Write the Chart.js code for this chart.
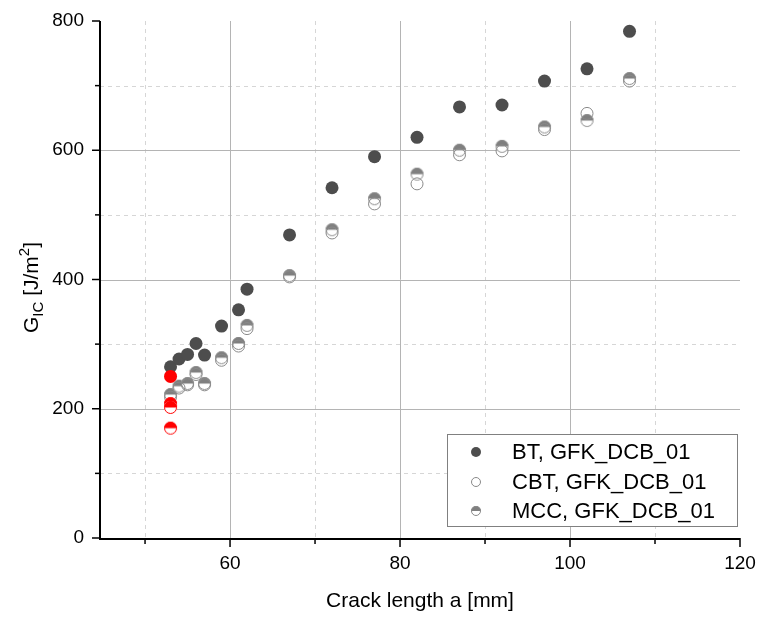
<!DOCTYPE html>
<html>
<head>
<meta charset="utf-8">
<script src="https://cdn.jsdelivr.net/npm/chart.js@4.4.0/dist/chart.umd.min.js"></script>
<style>
  html, body { margin: 0; padding: 0; background: #fff; }
  #wrap { width: 762px; height: 618px; position: relative; }
</style>
</head>
<body>
<div id="wrap"><canvas id="chart"></canvas></div>
<script>
// --- Data ---
const crackLength = [53, 54, 55, 56, 57, 59, 61, 62, 67, 72, 77, 82, 87, 92, 97, 102, 107];
const gBT  = [265, 277, 284, 301, 283, 328, 353, 385, 469, 542, 590, 620, 667, 670, 707, 726, 784];
const gCBT = [218, 232, 237, 253, 237, 275, 297, 324, 404, 472, 517, 548, 593, 599, 632, 657, 707];
const gMCC = [222, 235, 239, 256, 239, 279, 301, 329, 406, 477, 525, 563, 600, 606, 636, 646, 711];
// highlighted (red) first points
const redBT_x = [53];
const redBT_y = [250];
const redMCC_x = [53, 53, 53];
const redMCC_y = [208, 202, 170];

const seriesLabels = ['BT, GFK_DCB_01', 'CBT, GFK_DCB_01', 'MCC, GFK_DCB_01'];
const xMajor = [60, 80, 100, 120];
const xMinor = [50, 70, 90, 110];
const yMajor = [0, 200, 400, 600, 800];
const yMinor = [100, 300, 500, 700];

const FONT = '"Liberation Sans", Arial, sans-serif';

// --- marker images ---
function halfMarker(r, top, edge) {
    const c = document.createElement('canvas');
    const s = Math.ceil(r * 2 + 2);
    c.width = s; c.height = s;
    const g = c.getContext('2d');
    const m = s / 2;
    g.beginPath(); g.arc(m, m, r, 0, Math.PI * 2); g.fillStyle = '#fff'; g.fill();
    g.beginPath(); g.arc(m, m, r, Math.PI, 0); g.closePath(); g.fillStyle = top; g.fill();
    g.beginPath(); g.arc(m, m, r - 0.5, 0, Math.PI * 2); g.lineWidth = 1; g.strokeStyle = edge; g.stroke();
    return c;
}
const mccMarker = halfMarker(6.5, '#7f7f7f', '#8a8a8a');
const redMarker = halfMarker(6.5, '#ff0000', '#ff0000');

function pts(xs, ys) { return xs.map((x, i) => ({ x: x, y: ys[i] })); }

// --- grid, ticks, y title and legend ---
const decor = {
    id: 'decor',
    beforeDatasetsDraw(chart) {
        const { ctx, chartArea: a, scales: { x, y } } = chart;
        ctx.save();
        ctx.lineWidth = 1;
        ctx.strokeStyle = '#d6d6d6';
        ctx.setLineDash([4, 4]);
        xMinor.forEach(v => { const p = Math.round(x.getPixelForValue(v)) + 0.5; ctx.beginPath(); ctx.moveTo(p, a.top); ctx.lineTo(p, a.bottom); ctx.stroke(); });
        yMinor.forEach(v => { const p = Math.round(y.getPixelForValue(v)) + 0.5; ctx.beginPath(); ctx.moveTo(a.left, p); ctx.lineTo(a.right, p); ctx.stroke(); });
        ctx.setLineDash([]);
        ctx.strokeStyle = '#b4b4b4';
        xMajor.forEach(v => { if (v >= 120) return; const p = Math.round(x.getPixelForValue(v)) + 0.5; ctx.beginPath(); ctx.moveTo(p, a.top); ctx.lineTo(p, a.bottom); ctx.stroke(); });
        yMajor.forEach(v => { if (v <= 0 || v >= 800) return; const p = Math.round(y.getPixelForValue(v)) + 0.5; ctx.beginPath(); ctx.moveTo(a.left, p); ctx.lineTo(a.right, p); ctx.stroke(); });
        ctx.restore();
    },
    afterDraw(chart) {
        const { ctx, chartArea: a, scales: { x, y } } = chart;
        ctx.save();
        // axis lines and tick marks
        ctx.strokeStyle = '#000';
        ctx.lineWidth = 2;
        ctx.beginPath();
        ctx.moveTo(a.left, a.top); ctx.lineTo(a.left, a.bottom + 1); ctx.lineTo(a.right, a.bottom + 1);
        ctx.stroke();
        ctx.lineWidth = 1.5;
        yMajor.forEach(v => { const p = y.getPixelForValue(v); ctx.beginPath(); ctx.moveTo(a.left - 8, p); ctx.lineTo(a.left, p); ctx.stroke(); });
        yMinor.forEach(v => { const p = y.getPixelForValue(v); ctx.beginPath(); ctx.moveTo(a.left - 5, p); ctx.lineTo(a.left, p); ctx.stroke(); });
        xMajor.forEach(v => { const p = x.getPixelForValue(v); ctx.beginPath(); ctx.moveTo(p, a.bottom); ctx.lineTo(p, a.bottom + 9); ctx.stroke(); });
        xMinor.forEach(v => { const p = x.getPixelForValue(v); ctx.beginPath(); ctx.moveTo(p, a.bottom); ctx.lineTo(p, a.bottom + 6); ctx.stroke(); });

        // y title: G_IC [J/m^2]
        ctx.translate(30, (a.top + a.bottom) / 2 + 8);
        ctx.rotate(-Math.PI / 2);
        ctx.fillStyle = '#000';
        ctx.textBaseline = 'alphabetic';
        ctx.textAlign = 'left';
        const big = '21px ' + FONT, small = '15px ' + FONT;
        const parts = [['G', big, 0], ['IC', small, 5], [' [J/m', big, 0], ['2', small, -9], [']', big, 0]];
        let w = 0;
        parts.forEach(p => { ctx.font = p[1]; w += ctx.measureText(p[0]).width; });
        let cx = -w / 2;
        parts.forEach(p => { ctx.font = p[1]; ctx.fillText(p[0], cx, 8 + p[2]); cx += ctx.measureText(p[0]).width; });
        ctx.restore();

        // legend box
        ctx.save();
        ctx.fillStyle = '#fff';
        ctx.fillRect(447, 434, 291, 93);
        ctx.strokeStyle = '#808080';
        ctx.lineWidth = 1;
        ctx.strokeRect(447.5, 434.5, 290, 92);
        const rows = [452, 482, 511];
        ctx.font = '22px ' + FONT;
        ctx.textBaseline = 'middle';
        ctx.fillStyle = '#000';
        seriesLabels.forEach((t, i) => {
            const yy = rows[i];
            if (i === 0) {
                ctx.beginPath(); ctx.arc(476, yy, 5, 0, Math.PI * 2); ctx.fillStyle = '#4d4d4d'; ctx.fill();
            } else if (i === 1) {
                ctx.beginPath(); ctx.arc(476, yy, 4.5, 0, Math.PI * 2); ctx.strokeStyle = '#8a8a8a'; ctx.stroke();
            } else {
                ctx.drawImage(halfMarker(5, '#7f7f7f', '#8a8a8a'), 476 - 6, yy - 6);
            }
            ctx.fillStyle = '#000';
            ctx.fillText(t, 512, yy + 1);
        });
        ctx.restore();
    }
};

new Chart(document.getElementById('chart'), {
    type: 'scatter',
    data: {
        datasets: [
            { label: seriesLabels[0], order: 0, data: pts(crackLength, gBT), pointStyle: 'circle', pointRadius: 6.5, backgroundColor: '#4d4d4d', borderColor: '#4d4d4d', borderWidth: 0 },
            { label: seriesLabels[1], order: 1, data: pts(crackLength, gCBT), pointStyle: 'circle', pointRadius: 6, backgroundColor: 'rgba(255,255,255,0)', borderColor: '#8a8a8a', borderWidth: 1 },
            { label: seriesLabels[2], order: 2, data: pts(crackLength, gMCC), pointStyle: mccMarker, pointRadius: 6.5 },
            { label: 'red BT', order: -1, data: pts(redBT_x, redBT_y), pointStyle: 'circle', pointRadius: 6.5, backgroundColor: '#ff0000', borderColor: '#ff0000', borderWidth: 0 },
            { label: 'red MCC', order: -1, data: pts(redMCC_x, redMCC_y), pointStyle: redMarker, pointRadius: 6.5 }
        ]
    },
    options: {
        responsive: true,
        maintainAspectRatio: false,
        animation: false,
        layout: { padding: { left: 0, right: 22, top: 21, bottom: 0 } },
        plugins: { legend: { display: false }, tooltip: { enabled: false } },
        scales: {
            x: {
                type: 'linear', min: 44.7, max: 120,
                afterBuildTicks: s => { s.ticks = xMajor.map(v => ({ value: v })); },
                afterFit: s => { s.height = 80; s.paddingLeft = 0; s.paddingRight = 0; },
                grid: { display: false, drawTicks: false },
                border: { display: false },
                ticks: { color: '#000', font: { family: FONT, size: 19 }, padding: 14, maxRotation: 0 },
                title: { display: true, text: 'Crack length a [mm]', color: '#000', font: { family: FONT, size: 21 }, padding: { top: 6 } }
            },
            y: {
                type: 'linear', min: 0, max: 800,
                afterBuildTicks: s => { s.ticks = yMajor.map(v => ({ value: v })); },
                afterFit: s => { s.width = 100; s.paddingTop = 0; s.paddingBottom = 0; },
                grid: { display: false, drawTicks: false },
                border: { display: false },
                ticks: { color: '#000', font: { family: FONT, size: 19 }, padding: 16 }
            }
        }
    },
    plugins: [decor]
});
</script>
</body>
</html>
